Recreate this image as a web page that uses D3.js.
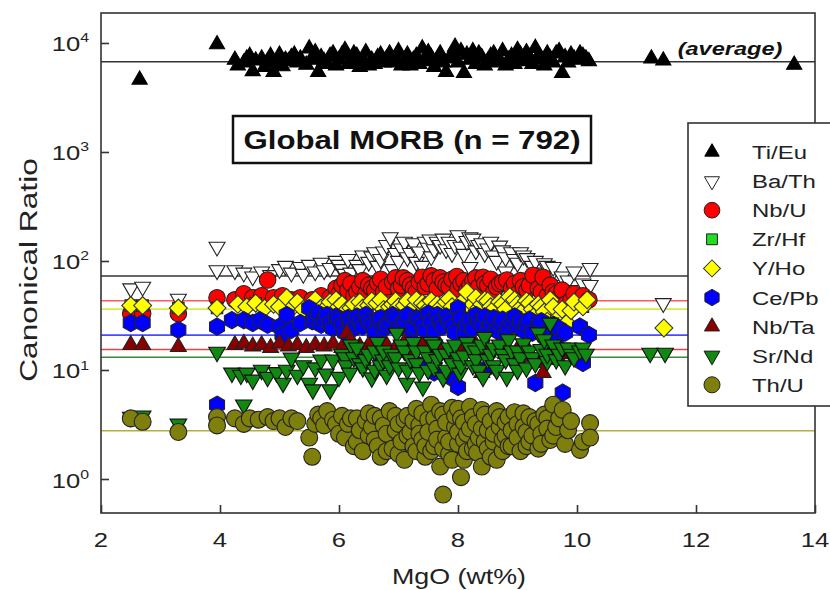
<!DOCTYPE html>
<html><head><meta charset="utf-8">
<script src="https://cdn.jsdelivr.net/npm/d3@7"></script>
<style>
body{margin:0;background:#fff;}
text{font-family:"Liberation Sans",Arial,sans-serif;}
</style></head>
<body><svg id="chart" width="830" height="590"></svg>
<script>
// ---------- DATA ----------
const xTicks = [2, 4, 6, 8, 10, 12, 14];
const yTickExps = [0, 1, 2, 3, 4];
const seriesNames = ["Ti/Eu","Ba/Th","Nb/U","Zr/Hf","Y/Ho","Ce/Pb","Nb/Ta","Sr/Nd","Th/U"];
const averages = [6730, 72.8, 43.2, 36.5, 36.5, 20.9, 15.4, 13.1, 2.77];

const tiEu = [[2.65,4600],[3.95,9700],[4.25,7000],[4.3,6200],[4.4,6600],[4.45,7200],[4.5,7600],[4.55,5500],[4.6,6900],[4.7,7200],[4.75,6000],[4.8,6800],[4.85,7600],[4.9,5400],[4.95,6600],[5.0,7800],[5.05,6100],[5.1,7000],[5.15,6800],[5.2,7400],[5.25,7800],[5.3,6600],[5.35,7200],[5.45,6300],
[5.5,8900],[5.55,7000],[5.6,8200],[5.65,5400],[5.7,7400],[5.75,6800],[5.8,6400],[5.85,7600],[5.9,8000],[5.95,6200],[6.0,7000],[6.05,7800],[6.1,8600],[6.15,6400],[6.2,6800],[6.25,8000],[6.3,7600],[6.35,6000],[6.4,7000],[6.45,8200],[6.5,6200],[6.55,7000],[6.6,6400],[6.65,7400],[6.7,7800],[6.75,6600],[6.8,7200],[6.85,8000],[6.9,6600],[6.95,7400],[7.0,8400],[7.05,6200],[7.1,7000],[7.15,7800],[7.2,6200],[7.25,7000],[7.3,7600],[7.35,6400],[7.4,8900],[7.45,6800],[7.5,8200],[7.55,7400],[7.6,6000],[7.65,7000],[7.7,8000],[7.75,6600],[7.8,5400],[7.85,7200],[7.9,7800],[7.95,9200],[8.0,6600],[8.05,8400],[8.1,5300],[8.15,7800],[8.2,7000],[8.25,8400],[8.3,6400],[8.35,8000],[8.4,7400],[8.45,6200],[8.5,6800],[8.55,7600],[8.6,8000],[8.65,6600],[8.7,7000],[8.75,8400],[8.8,6200],[8.85,7000],[8.9,7600],[8.95,6400],[9.0,8600],[9.05,7800],[9.1,6800],[9.15,8200],[9.2,7400],[9.25,6400],[9.3,9000],[9.35,7600],[9.4,7000],[9.45,6200],[9.5,8000],[9.55,7200],[9.6,6600],[9.65,8000],[9.7,8400],[9.75,5300],[9.8,7400],[9.85,6600],[9.9,7800],[9.95,7200],[10.0,7000],[10.05,8000],[10.1,7600],[10.15,7200],[10.2,6800],
[11.25,7200],[11.45,6900],[13.65,6300]];

const baTh = [[2.5,56],[2.7,58],[3.3,45],[3.95,135],[3.95,82],
[4.25,82],[4.4,78],[4.55,72],[4.7,80],[4.85,74],[5.0,84],[5.1,90],[5.2,78],[5.35,88],[5.4,76],
[5.5,92],[5.6,80],[5.7,96],[5.75,82],[5.85,86],[5.95,100],[6.0,92],[6.05,84],[6.1,76],[6.15,104],[6.2,78],[6.3,92],[6.35,84],[6.4,112],[6.5,98],[6.55,110],[6.6,120],[6.65,90],[6.7,104],[6.75,122],[6.8,140],[6.86,165],[6.9,84],[6.95,118],[7.0,100],[7.05,130],[7.1,150],[7.15,108],[7.2,118],[7.25,145],[7.3,98],[7.35,122],[7.4,90],[7.45,150],[7.5,132],[7.53,157],[7.55,110],[7.6,128],[7.65,150],[7.7,140],[7.75,160],[7.8,128],[7.85,150],[7.9,118],[7.95,140],[8.0,172],[8.05,135],[8.1,116],[8.15,152],[8.2,165],[8.2,88],[8.25,160],[8.3,125],[8.35,140],[8.4,145],[8.45,118],[8.5,130],[8.55,150],[8.6,112],[8.65,100],[8.7,138],[8.75,125],[8.8,108],[8.8,80],[8.9,120],[8.95,104],[9.0,96],[9.05,120],[9.1,112],[9.16,106],[9.2,70],[9.25,90],[9.3,100],[9.4,78],[9.45,95],[9.5,90],[9.55,72],[9.6,88],[9.68,60],[9.75,72],[9.83,52],[9.85,66],[9.95,80],[10.0,54],[10.1,62],[10.22,86],[10.22,60],[11.45,41]];

const nbU = [[2.5,33],[2.7,33],[3.3,33],[3.95,46],[4.25,44],[4.4,50],[4.55,46],[4.7,48],[4.8,67],[4.9,46],[5.05,48],[5.2,44],[5.35,46],
[5.55,44],[5.7,48],[5.85,46],[5.95,56],[6.0,50],[6.05,60],[6.1,66],[6.15,54],[6.2,62],[6.25,48],[6.3,52],[6.35,58],[6.4,66],[6.45,50],[6.5,60],[6.55,56],[6.6,54],[6.65,63],[6.7,68],[6.75,52],[6.8,58],[6.9,64],[6.95,70],[7.0,56],[7.05,60],[7.08,70],[7.15,66],[7.2,60],[7.25,56],[7.3,52],[7.35,64],[7.4,71],[7.45,58],[7.5,62],[7.55,73],[7.6,66],[7.65,56],[7.7,70],[7.75,64],[7.8,60],[7.85,58],[7.9,68],[7.98,72],[8.0,56],[8.05,62],[8.1,66],[8.15,54],[8.2,60],[8.25,66],[8.3,70],[8.35,58],[8.42,71],[8.45,62],[8.5,60],[8.55,68],[8.6,52],[8.65,58],[8.7,62],[8.75,64],[8.82,67],[8.9,56],[8.95,62],[9.0,50],[9.05,66],[9.1,58],[9.16,54],[9.2,60],[9.26,74],[9.35,56],[9.4,52],[9.43,71],[9.5,48],[9.55,60],[9.6,52],[9.65,50],[9.7,46],[9.75,54],[9.8,40],[9.9,44],[9.95,50],[10.05,42],[10.1,48],[10.2,44]];

const zrHf = [[2.5,39],[2.7,39],[3.3,37],[3.95,37],[4.6,41],[5.25,39],[6.0,38],[6.9,40],[7.65,40],[8.25,40],[9.0,40],[10.1,38]];

const yHo = [[2.5,39],[2.7,39],[3.3,37],[3.95,37],[4.3,40],[4.45,38],[4.6,41],[4.75,37],[4.9,40],[5.0,38],[5.12,46],[5.25,39],[5.3,42],[5.4,36],
[5.55,40],[5.6,44],[5.7,37],[5.8,38],[5.85,42],[5.95,44],[6.0,38],[6.05,40],[6.13,35.5],[6.2,37],[6.25,40],[6.35,42],[6.4,37],[6.5,39],[6.55,43],[6.64,41],[6.7,44],[6.75,36],[6.85,38],[6.9,40],[6.95,43],[7.0,38],[7.1,39],[7.15,43],[7.25,37],[7.3,44],[7.4,41],[7.45,39],[7.5,36],[7.55,43],[7.65,40],[7.7,37],[7.8,42],[7.85,45],[7.9,38],[8.0,35],[8.05,41],[8.15,52],[8.2,38],[8.25,40],[8.3,46],[8.35,37],[8.4,40],[8.45,44],[8.5,43],[8.55,38],[8.6,36],[8.7,42],[8.75,40],[8.8,36],[8.87,47],[8.95,44],[9.0,40],[9.05,37],[9.1,35],[9.15,43],[9.2,41],[9.25,36],[9.3,32],[9.35,40],[9.4,38],[9.45,34],[9.5,28],[9.55,44],[9.6,38],[9.7,30.6],[9.75,36],[9.83,27],[9.9,35],[9.95,42],[10.1,38],[10.17,44],[11.46,24.3]];

const cePb = [[2.5,27],[2.7,27],[3.3,23.3],[3.95,25],[3.95,4.8],[4.2,28.7],[4.4,28.7],[4.55,27],[4.67,28.7],[4.8,26],[5.0,25],[5.05,21],[5.12,32],[5.2,23.3],[5.35,27],
[5.5,37],[5.55,28],[5.6,30],[5.65,33],[5.7,26],[5.75,29],[5.8,32],[5.85,27],[5.9,24],[5.95,31],[6.0,29],[6.05,26],[6.1,22],[6.15,30],[6.2,27],[6.25,24],[6.3,31],[6.35,28],[6.4,25],[6.45,32],[6.5,28],[6.55,26],[6.6,22],[6.65,29],[6.7,30],[6.7,12],[6.75,24],[6.8,26],[6.85,28],[6.9,32],[6.95,30],[7.0,24],[7.05,26],[7.1,28],[7.15,32],[7.2,21],[7.25,25],[7.3,30],[7.35,11],[7.35,29],[7.4,26],[7.45,23],[7.5,33],[7.55,28],[7.6,23],[7.6,9.5],[7.65,32],[7.7,28],[7.75,25],[7.8,31],[7.85,28],[7.87,8.6],[7.9,25],[7.95,22],[8.0,37],[8.0,7.0],[8.05,30],[8.1,22],[8.15,26],[8.2,29],[8.25,24],[8.3,32],[8.35,28],[8.4,26],[8.45,31],[8.5,24],[8.5,10.5],[8.55,27],[8.6,30],[8.65,23],[8.7,27],[8.75,29],[8.8,21],[8.85,25],[8.9,28],[8.95,31],[9.0,25],[9.0,12],[9.05,28],[9.1,23],[9.15,26],[9.2,29],[9.25,22],[9.3,7.6],[9.35,26],[9.4,28],[9.45,21],[9.5,19],[9.55,24],[9.6,26],[9.65,19],[9.7,24],[9.76,6.2],[9.8,22],[10.05,25],[10.1,11.6],[10.2,21]];

const nbTa = [[2.5,17],[2.7,17],[3.3,16.3],[4.25,17],[4.4,17.5],[4.55,16.5],[4.7,17],[4.85,16],[5.0,17.5],[5.15,16.5],[5.3,17],[5.45,16],[5.6,17],[5.75,16.5],[5.9,17.5],[6.05,16],[6.13,21.8],[6.2,18.8],[6.35,16.5],[6.5,17],[6.65,15.5],[6.8,17],[6.95,16],[7.1,18],[7.25,15.5],[7.4,17],[7.55,15],[7.7,16.5],[7.85,14.5],[8.0,16],[8.15,15],[8.3,17],[8.4,9.4],[8.5,15],[8.65,16],[8.8,14],[9.0,15.5],[9.05,13.1],[9.2,14.5],[9.38,11.6],[9.43,9.4],[9.55,15],[9.7,12.4],[9.85,14]];

const srNd = [[2.5,3.7],[2.7,3.8],[3.3,3.2],[3.95,14.6],[4.4,4.8],
[4.2,9.4],[4.35,9.0],[4.45,9.4],[4.55,8.1],[4.7,10],[4.8,8.6],[4.95,9.5],[5.06,7.6],[5.12,10],[5.2,12.9],[5.3,9.0],[5.4,11],[5.5,7.6],[5.56,6.6],[5.6,10.5],[5.7,12.4],[5.78,9.2],[5.85,6.6],[5.9,12.4],[6.0,8.6],[6.05,14],[6.1,13],[6.12,11],[6.18,9.4],[6.2,17],[6.25,13],[6.3,16],[6.35,11.5],[6.4,10.5],[6.45,12.5],[6.5,14],[6.55,8.5],[6.6,15],[6.6,10],[6.65,18],[6.7,11],[6.74,12.4],[6.75,15],[6.8,9.0],[6.85,11],[6.88,14],[6.95,13],[6.97,21.8],[7.0,10.5],[7.05,17],[7.1,15],[7.14,7.6],[7.15,10],[7.2,12.5],[7.25,18],[7.3,15],[7.3,11.5],[7.35,9.5],[7.41,7.0],[7.45,15],[7.5,13],[7.5,10],[7.55,18],[7.6,10.5],[7.6,17],[7.65,12.5],[7.7,14],[7.75,8.5],[7.8,14],[7.8,10],[7.85,16],[7.9,11.5],[7.95,17],[8.0,13],[8.03,9.4],[8.05,11],[8.1,13.5],[8.15,18],[8.2,16],[8.25,11],[8.3,15],[8.3,12.5],[8.35,10],[8.4,17],[8.42,8.6],[8.45,20],[8.5,12.5],[8.55,14],[8.6,16],[8.6,11],[8.65,10],[8.7,17],[8.75,14],[8.8,12.5],[8.82,8.6],[8.85,19],[8.9,15],[8.95,11.5],[9.0,15],[9.0,10],[9.05,13],[9.1,17.5],[9.15,10.5],[9.2,15],[9.25,13],[9.3,11.5],[9.35,22],[9.4,15.5],[9.45,19],[9.5,12],[9.5,14],[9.55,27],[9.6,17],[9.65,12.5],[9.7,14],[9.75,16],[9.8,11],[9.85,16],[9.9,14],[9.95,13],[10.05,15],[10.1,16],[10.15,14],
[11.23,14.3],[11.48,14.3]];

const thU = [[2.5,3.6],[2.7,3.35],[3.3,2.7],[3.95,3.7],[3.95,3.1],
[4.25,3.6],[4.4,3.2],[4.5,3.6],[4.65,3.5],[4.8,3.7],[4.9,3.4],[5.0,3.6],[5.1,3.0],[5.2,3.6],[5.3,3.4],[5.5,2.4],[5.55,1.6],[5.6,3.2],[5.65,3.9],[5.7,3.6],[5.75,3.1],[5.8,4.2],[5.9,3.5],[5.95,3.2],[6.0,2.6],[6.05,3.8],[6.1,2.4],[6.15,3.2],[6.2,3.6],[6.25,2.0],[6.3,3.6],[6.3,2.2],[6.35,2.8],[6.4,1.8],[6.45,3.4],[6.5,4.0],[6.5,2.5],[6.55,3.0],[6.6,2.3],[6.6,3.8],[6.65,2.0],[6.7,1.6],[6.7,3.6],[6.75,3.1],[6.8,2.6],[6.8,1.8],[6.85,4.2],[6.9,1.9],[6.95,2.8],[6.95,3.8],[7.0,3.2],[7.0,1.7],[7.05,2.2],[7.1,1.5],[7.1,3.5],[7.15,3.8],[7.15,2.5],[7.2,2.7],[7.25,2.0],[7.25,3.4],[7.3,1.8],[7.3,4.4],[7.35,3.1],[7.35,2.6],[7.4,2.3],[7.4,4.0],[7.45,1.6],[7.45,2.0],[7.5,3.5],[7.5,2.7],[7.55,4.8],[7.55,1.8],[7.6,2.0],[7.6,3.6],[7.65,2.9],[7.65,2.3],[7.7,1.3],[7.7,4.2],[7.75,0.72],[7.75,3.9],[7.75,1.9],[7.8,2.4],[7.8,3.3],[7.85,1.7],[7.85,2.2],[7.9,4.5],[7.9,1.5],[7.95,3.0],[7.95,3.8],[8.0,2.1],[8.0,2.7],[8.0,4.4],[8.05,1.04],[8.05,3.6],[8.1,1.5],[8.1,2.3],[8.1,3.3],[8.15,2.6],[8.15,1.8],[8.2,4.6],[8.2,2.9],[8.25,1.9],[8.25,3.7],[8.3,3.2],[8.3,2.1],[8.32,1.75],[8.35,2.4],[8.4,1.3],[8.4,2.9],[8.4,4.3],[8.45,3.9],[8.45,2.2],[8.5,2.8],[8.5,1.9],[8.55,1.6],[8.55,3.4],[8.6,2.2],[8.6,2.6],[8.65,4.2],[8.65,1.5],[8.7,3.0],[8.7,3.7],[8.75,1.8],[8.75,2.3],[8.8,2.5],[8.8,3.3],[8.85,3.7],[8.85,2.0],[8.9,2.0],[8.9,2.8],[8.95,4.1],[9.0,3.2],[9.0,2.4],[9.05,1.8],[9.1,4.0],[9.1,3.0],[9.15,2.7],[9.15,2.0],[9.2,2.2],[9.2,3.7],[9.25,2.5],[9.3,3.4],[9.35,1.9],[9.35,3.2],[9.4,2.6],[9.4,2.1],[9.45,3.9],[9.5,3.6],[9.5,2.9],[9.55,2.28],[9.6,4.8],[9.6,2.5],[9.65,3.0],[9.7,3.6],[9.76,4.3],[9.8,2.1],[9.85,2.8],[9.9,3.4],[10.05,1.85],[10.1,2.2],[10.22,3.26],[10.22,2.4]];

// ---------- STYLES ----------
const hexagon = {draw(ctx, size){const r=Math.sqrt(size*2/(3*Math.sqrt(3)));for(let i=0;i<6;i++){const a=Math.PI/180*(-90+60*i);const px=r*Math.cos(a),py=r*Math.sin(a);i?ctx.lineTo(px,py):ctx.moveTo(px,py);}ctx.closePath();}};
const seriesData = [tiEu, baTh, nbU, zrHf, yHo, cePb, nbTa, srNd, thU];
const styles = [
 {type:d3.symbolTriangle, size:100, rot:0, fill:"#000", stroke:"#000", line:"#333"},
 {type:d3.symbolTriangle, size:110, rot:180, fill:"#fff", stroke:"#222", line:"#333"},
 {type:d3.symbolCircle, size:215, rot:0, fill:"#ff0000", stroke:"#222", line:"#ff5a5a"},
 {type:d3.symbolSquare, size:130, rot:0, fill:"#22dd22", stroke:"#222", line:"#40c040"},
 {type:d3.symbolSquare, size:160, rot:45, fill:"#ffff00", stroke:"#333", line:"#f2f24a"},
 {type:hexagon, size:195, rot:0, fill:"#0000ff", stroke:"#222", line:"#4a4aff"},
 {type:d3.symbolTriangle, size:110, rot:0, fill:"#880000", stroke:"#222", line:"#d84a4a"},
 {type:d3.symbolTriangle, size:120, rot:180, fill:"#118811", stroke:"#111", line:"#3a8a3a"},
 {type:d3.symbolCircle, size:225, rot:0, fill:"#7f7f0e", stroke:"#222", line:"#b0b040"}
];

// ---------- CHART ----------
const svg = d3.select("#chart");
const L=101, R=815, T=13, B=513;
const x = d3.scaleLinear().domain([2,14]).range([L,R]);
const y = d3.scaleLog().domain([0.4877,18836]).range([B,T]);

function label(g, px, py, str, size, sx, opts={}){
  const t = g.append("text").attr("transform",`translate(${px},${py}) ${opts.rot?`rotate(${opts.rot})`:""} scale(${sx},1)`)
    .attr("text-anchor",opts.anchor||"middle").attr("font-size",size).attr("fill",opts.fill||"#222");
  if(opts.bold) t.attr("font-weight","bold");
  if(opts.italic) t.attr("font-style","italic");
  if(str!==null) t.text(str);
  return t;
}

svg.append("rect").attr("width",830).attr("height",590).attr("fill","#fff");

// average lines
svg.append("g").selectAll("line").data(averages).join("line")
  .attr("x1",x(2)).attr("x2",x(14))
  .attr("y1",d=>y(d)).attr("y2",d=>y(d))
  .attr("stroke",(d,i)=>styles[i].line).attr("stroke-width",1.6);

// points
seriesData.forEach((data,i)=>{
  const st=styles[i];
  const sym=d3.symbol().type(st.type).size(st.size);
  svg.append("g").selectAll("path").data(data).join("path")
    .attr("d",sym)
    .attr("transform",d=>`translate(${x(d[0])},${y(d[1])}) rotate(${st.rot})`)
    .attr("fill",st.fill).attr("stroke",st.stroke).attr("stroke-width",1.1);
});

// frame
svg.append("rect").attr("x",L).attr("y",T).attr("width",R-L).attr("height",B-T)
  .attr("fill","none").attr("stroke","#333").attr("stroke-width",1.6);

// x axis
const xAxis = svg.append("g").attr("transform",`translate(0,${B})`)
  .call(d3.axisBottom(x).tickValues(xTicks).tickSize(-8).tickFormat(""));
xAxis.select(".domain").remove();
xAxis.selectAll("line").attr("stroke","#333").attr("stroke-width",1.6);
const xl = svg.append("g");
xTicks.forEach(v=>label(xl, x(v), 547, String(v), 21, 1.22));

// y axis
const yAxis = svg.append("g").attr("transform",`translate(${L},0)`)
  .call(d3.axisLeft(y).tickValues(yTickExps.map(e=>Math.pow(10,e))).tickSize(-8).tickFormat(""));
yAxis.select(".domain").remove();
yAxis.selectAll("line").attr("stroke","#333").attr("stroke-width",1.6);
const ylg = svg.append("g");
yTickExps.forEach(e=>{
  const t = label(ylg, 89, y(Math.pow(10,e))+8.5, null, 21, 1.22, {anchor:"end"});
  t.append("tspan").text("10");
  t.append("tspan").attr("dy",-9).attr("font-size",13).text(e);
});

// axis titles
label(svg, 459, 584, "MgO (wt%)", 22, 1.22);
label(svg, 37, 270, "Canonical Ratio", 24, 1.32, {rot:-90});

// (average)
label(svg, 730, 55, "(average)", 19, 1.24, {bold:true, italic:true, fill:"#111"});

// title box
svg.append("rect").attr("x",233).attr("y",116).attr("width",358).attr("height",47)
  .attr("fill","#fff").attr("stroke","#111").attr("stroke-width",2.5);
label(svg, 412, 149, "Global MORB (n = 792)", 26, 1.2, {bold:true, fill:"#111"});

// legend
const lg = svg.append("g");
lg.append("rect").attr("x",688).attr("y",123).attr("width",160).attr("height",283)
  .attr("fill","#fff").attr("stroke","#333").attr("stroke-width",1.6);
seriesNames.forEach((name,i)=>{
  const st=styles[i];
  const cy=152+i*29.1;
  lg.append("path").attr("d",d3.symbol().type(st.type).size(st.size*0.9)())
    .attr("transform",`translate(712,${cy}) rotate(${st.rot})`)
    .attr("fill",st.fill).attr("stroke",st.stroke).attr("stroke-width",1);
  label(lg, 752, cy+7, name, 19, 1.26, {anchor:"start"});
});
</script></body></html>
